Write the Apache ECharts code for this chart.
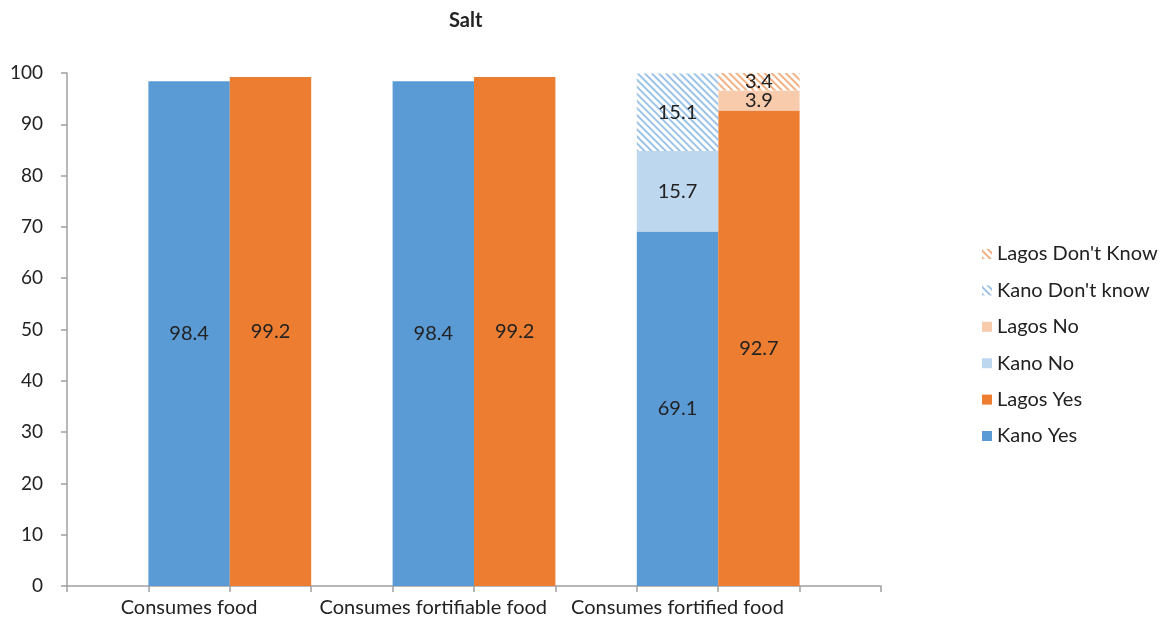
<!DOCTYPE html>
<html>
<head>
<meta charset="utf-8">
<script src="https://cdn.jsdelivr.net/npm/echarts@6/dist/echarts.min.js"></script>
<style>
  html, body { margin: 0; padding: 0; background: #fff; }
  #chart { width: 1171px; height: 633px; }
</style>
</head>
<body>
<div id="chart"></div>
<script>
// slots on the x axis: empty, Kano, Lagos, empty, Kano, Lagos, empty, Kano, Lagos, empty
var categories = ['', 'Consumes food', '', '', 'Consumes fortifiable food', '', '', 'Consumes fortified food', '', ''];
var yTicks = [0, 10, 20, 30, 40, 50, 60, 70, 80, 90, 100];

var kanoYes = [null, 98.4, null, null, 98.4, null, null, 69.1, null, null];
var lagosYes = [null, null, 99.2, null, null, 99.2, null, null, 92.7, null];
var kanoNo = [null, null, null, null, null, null, null, 15.7, null, null];
var lagosNo = [null, null, null, null, null, null, null, null, 3.9, null];
var kanoDontKnow = [null, null, null, null, null, null, null, 15.1, null, null];
var lagosDontKnow = [null, null, null, null, null, null, null, null, 3.4, null];

var font = 'Lato';
var textColor = '#222';

function hatch(color) {
  return {
    symbol: 'rect',
    symbolSize: 1,
    color: color,
    dashArrayX: [1, 0],
    dashArrayY: [2, 3],
    rotation: Math.PI / 4
  };
}

function makeSeries(name, data, color, decal) {
  var s = {
    name: name,
    type: 'bar',
    stack: 'all',
    data: data,
    barCategoryGap: '0%',
    itemStyle: { color: color },
    label: {
      show: true,
      position: 'inside',
      color: textColor,
      fontFamily: font,
      fontSize: 20
    }
  };
  if (decal) {
    s.itemStyle.decal = decal;
  }
  return s;
}

var chart = echarts.init(document.getElementById('chart'));
chart.setOption({
  animation: false,
  title: {
    text: 'Salt',
    left: 444,
    top: 6,
    textStyle: { fontFamily: font, fontSize: 20, fontWeight: 'bold', color: textColor }
  },
  grid: { left: 67, right: 290, top: 73, bottom: 47, containLabel: false },
  legend: {
    orient: 'vertical',
    left: 977,
    top: 239,
    itemWidth: 10,
    itemHeight: 10,
    itemGap: 16.4,
    icon: 'rect',
    textStyle: { fontFamily: font, fontSize: 20, color: textColor },
    data: ["Lagos Don't Know", "Kano Don't know", 'Lagos No', 'Kano No', 'Lagos Yes', 'Kano Yes']
  },
  xAxis: {
    type: 'category',
    data: categories,
    axisLine: { lineStyle: { color: '#a0a0a0', width: 1.5 } },
    axisTick: { show: true, interval: 0, length: 6, lineStyle: { color: '#a0a0a0', width: 1.5 } },
    axisLabel: { interval: 0, margin: 12, color: textColor, fontFamily: font, fontSize: 20 }
  },
  yAxis: {
    type: 'value',
    min: yTicks[0],
    max: yTicks[yTicks.length - 1],
    interval: 10,
    splitLine: { show: false },
    axisLine: { show: true, lineStyle: { color: '#a0a0a0', width: 1.5 } },
    axisTick: { show: true, length: 6, lineStyle: { color: '#a0a0a0', width: 1.5 } },
    axisLabel: { margin: 24, color: textColor, fontFamily: font, fontSize: 19 }
  },
  series: [
    makeSeries('Kano Yes', kanoYes, '#5b9bd5'),
    makeSeries('Lagos Yes', lagosYes, '#ed7d31'),
    makeSeries('Kano No', kanoNo, '#bdd7ee'),
    makeSeries('Lagos No', lagosNo, '#f8cbad'),
    makeSeries("Kano Don't know", kanoDontKnow, '#ffffff', hatch('#9dc3e6')),
    makeSeries("Lagos Don't Know", lagosDontKnow, '#ffffff', hatch('#f4b183'))
  ]
});
</script>
</body>
</html>
